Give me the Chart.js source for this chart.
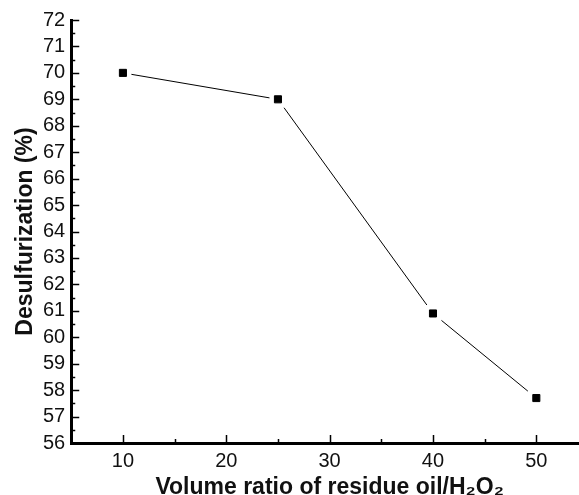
<!DOCTYPE html>
<html>
<head>
<meta charset="utf-8">
<script src="https://cdn.jsdelivr.net/npm/chart.js@4"></script>
<style>
  html, body { margin: 0; padding: 0; background: #fff; overflow: hidden; }
  #wrap { width: 600px; height: 495px; }
</style>
</head>
<body>
<div id="wrap"><canvas id="chart" width="600" height="495"></canvas></div>
<script>
// data
const ratio = [10, 25, 40, 50];
const desulf = [70.0, 69.0, 60.9, 57.7];

// axis ticks
const xTicks = [10, 20, 30, 40, 50];
const yTicks = [56, 57, 58, 59, 60, 61, 62, 63, 64, 65, 66, 67, 68, 69, 70, 71, 72];

const points = ratio.map((x, i) => ({ x: x, y: desulf[i] }));

// inward major / minor ticks like Origin
const innerTicks = {
    id: "innerTicks",
    afterDraw(chart) {
        const ctx = chart.ctx;
        const xs = chart.scales.x;
        const ys = chart.scales.y;
        const left = chart.chartArea.left;
        const bottom = chart.chartArea.bottom;
        ctx.save();
        ctx.strokeStyle = "#000";
        ctx.lineWidth = 1.5;
        ctx.beginPath();
        for (let v = 56; v <= 72; v += 0.5) {
            const y = Math.round(ys.getPixelForValue(v)) + 0.5;
            const len = Number.isInteger(v) ? 8 : 4;
            ctx.moveTo(left, y);
            ctx.lineTo(left + len, y);
        }
        for (let v = 5; v <= 55; v += 5) {
            const x = Math.round(xs.getPixelForValue(v)) + 0.5;
            const len = v % 10 === 0 ? 8 : 4;
            ctx.moveTo(x, bottom);
            ctx.lineTo(x, bottom - len);
        }
        ctx.stroke();
        ctx.restore();
    }
};

const tickFont = { family: "Arial, 'Liberation Sans', sans-serif", size: 20, lineHeight: 1 };
const titleFont = { family: "Arial, 'Liberation Sans', sans-serif", size: 23, weight: "bold", lineHeight: 1 };

new Chart(document.getElementById("chart").getContext("2d"), {
    type: "scatter",
    data: {
        datasets: [
            {
                // the connecting line
                data: points,
                showLine: true,
                borderColor: "#000",
                borderWidth: 1,
                pointRadius: 0,
                order: 3
            },
            {
                // white gaps round the markers
                data: points,
                pointStyle: "rect",
                pointRadius: 12,
                backgroundColor: "#fff",
                borderWidth: 0,
                order: 2
            },
            {
                // square markers
                data: points,
                pointStyle: "rect",
                pointRadius: 5,
                backgroundColor: "#000",
                borderColor: "#000",
                borderWidth: 1,
                order: 1
            }
        ]
    },
    options: {
        responsive: false,
        animation: false,
        events: [],
        layout: { padding: { left: 14, right: 10, top: 20, bottom: -4 } },
        plugins: {
            legend: { display: false },
            tooltip: { enabled: false }
        },
        scales: {
            x: {
                type: "linear",
                min: 5,
                max: 55,
                afterBuildTicks: s => { s.ticks = xTicks.map(v => ({ value: v })); },
                grid: { display: false, drawTicks: false },
                border: { display: true, color: "#000", width: 3 },
                ticks: { color: "#111", font: tickFont, padding: 8, maxRotation: 0, autoSkip: false },
                title: {
                    display: true,
                    text: "Volume ratio of residue oil/H₂O₂",
                    color: "#111",
                    font: titleFont,
                    padding: { top: -3, bottom: 0 }
                }
            },
            y: {
                min: 56,
                max: 72,
                afterBuildTicks: s => { s.ticks = yTicks.map(v => ({ value: v })); },
                grid: { display: false, drawTicks: false },
                border: { display: true, color: "#000", width: 3 },
                ticks: { color: "#111", font: tickFont, padding: 6, autoSkip: false },
                title: {
                    display: true,
                    text: "Desulfurization (%)",
                    color: "#111",
                    font: titleFont,
                    padding: { top: 0, bottom: 0 }
                }
            }
        }
    },
    plugins: [innerTicks]
});
</script>
</body>
</html>
